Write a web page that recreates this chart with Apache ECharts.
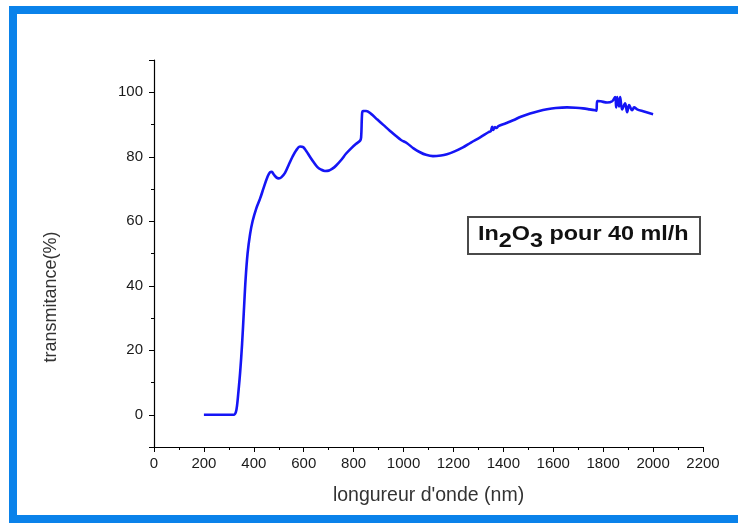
<!DOCTYPE html>
<html>
<head>
<meta charset="utf-8">
<script src="https://cdn.jsdelivr.net/npm/echarts@6/dist/echarts.min.js"></script>
<style>
  html, body { margin: 0; padding: 0; background: #ffffff; overflow: hidden; }
  #frame { position: absolute; left: 9px; top: 6px; width: 760px; height: 501px;
           border: 8px solid #0a82ea; border-right: none; }
  #chart { position: absolute; left: 0; top: 0; width: 738px; height: 523px; }
</style>
</head>
<body>
<div id="frame"></div>
<div id="chart"></div>
<script>
// Wavelength (nm)
const wavelength = [200, 250, 300, 320, 328, 333, 337, 345, 353, 360, 367, 375, 385, 395, 410,
  425, 440, 455, 465, 472, 480, 490, 500, 510, 525, 540, 555, 570, 585, 598, 610, 625, 640,
  655, 670, 685, 700, 715, 730, 750, 770, 790, 810, 826, 830, 834, 838, 850, 870, 894, 920,
  946, 970, 990, 1014, 1040, 1066, 1090, 1118, 1150, 1174, 1200, 1238, 1270, 1307, 1340, 1350,
  1355, 1360, 1366, 1372, 1380, 1410, 1439, 1470, 1507, 1540, 1575, 1610, 1655, 1690, 1719,
  1745, 1768, 1773, 1776, 1790, 1816, 1836, 1848, 1852, 1856, 1864, 1868, 1876, 1888, 1896,
  1904, 1916, 1924, 1936, 1960, 2000];
// Transmittance (%)
const transmittance = [0, 0, 0, 0, 0.8, 3, 6, 13, 22, 32, 42, 50, 56, 60, 64,
  67, 70.5, 73.8, 75.2, 75.3, 74.5, 73.6, 73.3, 73.6, 75, 77.5, 80, 82, 83.2, 83, 81.8, 80, 78.3,
  76.8, 76, 75.6, 75.7, 76.3, 77.3, 79, 81, 82.6, 84, 85, 86, 93.5, 94.2, 94.2, 93.3, 91.6, 89.8,
  88, 86.4, 85.2, 84.2, 82.6, 81.4, 80.6, 80.2, 80.4, 80.8, 81.5, 82.9, 84.4, 86, 87.6, 88,
  89.3, 88.3, 89.2, 88.9, 89.5, 90.4, 91.3, 92.4, 93.4, 94.1, 94.7, 95.1, 95.3, 95.2, 95.0,
  94.7, 94.4, 94.3, 97.3, 97.2, 96.8, 97.2, 98.5, 95.3, 98.5, 95.6, 98.5, 94.7, 96.6, 93.8,
  96, 94.4, 95.3, 94.7, 94.1, 93.2];
const xTicks = { min: 0, max: 2200, interval: 200 };
const yTicks = { min: -10, max: 110, minorInterval: 10 };
const yLabelValues = [0, 20, 40, 60, 80, 100];
const xTitle = "longureur d'onde (nm)";
const yTitle = 'transmitance(%)';

const seriesData = wavelength.map((w, i) => [w, transmittance[i]]);
const labelColor = '#1a1a1a';
const font = 'Liberation Sans';
const chart = echarts.init(document.getElementById('chart'), null, { renderer: 'canvas', width: 738, height: 523 });
chart.setOption({
  backgroundColor: 'transparent',
  animation: false,
  grid: { left: 154, right: 35, top: 60, bottom: 76, containLabel: false },
  xAxis: {
    type: 'value', min: xTicks.min, max: xTicks.max, interval: xTicks.interval,
    name: xTitle, nameLocation: 'middle', nameGap: 39,
    nameTextStyle: { fontFamily: font, fontSize: 19.5, color: '#333' },
    axisLine: { show: true, onZero: false, lineStyle: { color: '#000', width: 1.2 } },
    axisTick: { show: true, inside: false, length: 5, lineStyle: { color: '#000', width: 1 } },
    minorTick: { show: true, splitNumber: 2, length: 3, lineStyle: { color: '#000', width: 1 } },
    splitLine: { show: false },
    axisLabel: { margin: 9, fontFamily: font, fontSize: 15, color: labelColor,
      formatter: v => String(v) }
  },
  yAxis: [
    {
      type: 'value', min: yTicks.min, max: yTicks.max, interval: yTicks.minorInterval,
      axisLine: { show: true, onZero: false, lineStyle: { color: '#000', width: 1.2 } },
      axisTick: { show: true, length: 3, lineStyle: { color: '#000', width: 1 } },
      axisLabel: { show: false },
      splitLine: { show: false }
    },
    {
      type: 'value', min: yTicks.min, max: yTicks.max, position: 'left', splitNumber: 6,
      name: yTitle, nameLocation: 'middle', nameGap: 94, nameRotate: 90,
      nameTextStyle: { fontFamily: font, fontSize: 18, color: '#333', padding: [0, 87, 0, 0] },
      axisLine: { show: false },
      axisTick: { show: true, length: 5, lineStyle: { color: '#000', width: 1 } },
      axisLabel: {
        margin: 11, fontFamily: font, fontSize: 15, color: labelColor,
        showMinLabel: true, showMaxLabel: true,
        formatter: v => (yLabelValues.indexOf(v) >= 0 ? String(v) : '')
      },
      splitLine: { show: false }
    }
  ],
  series: [{
    type: 'line', yAxisIndex: 0, data: seriesData, showSymbol: false,
    smooth: 0.35,
    lineStyle: { color: '#1515f5', width: 2.6 }
  }],
  graphic: [
    {
      type: 'rect', left: 467, top: 216,
      shape: { width: 232, height: 37 },
      style: { fill: '#fff', stroke: '#4a4a4a', lineWidth: 2 }
    },
    {
      type: 'text', left: 478, top: 224, scaleX: 1.17, originX: 0,
      style: {
        text: '{n|In}{s|2}{n|O}{s|3}{n| pour 40 ml/h}',
        rich: {
          n: { fontFamily: font, fontSize: 20, fontWeight: 'bold', fill: '#111', lineHeight: 20, verticalAlign: 'top' },
          s: { fontFamily: font, fontSize: 20, fontWeight: 'bold', fill: '#111', lineHeight: 34, verticalAlign: 'middle' }
        }
      }
    }
  ]
});
</script>
</body>
</html>
